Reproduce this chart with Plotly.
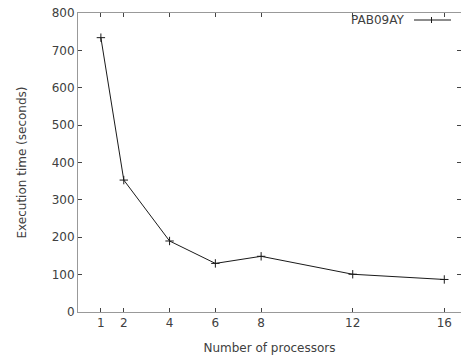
import plotly.graph_objects as go

processors = [1, 2, 4, 6, 8, 12, 16]
exec_time = [734, 353, 190, 130, 149, 101, 87]
x_ticks = [1, 2, 4, 6, 8, 12, 16]
y_ticks = [0, 100, 200, 300, 400, 500, 600, 700, 800]
series_name = "PAB09AY"

W, H = 461, 356
L, R, T, B = 78, 0, 13, 44
pw = W - L - R
ph = H - T - B
FONT = "DejaVu Sans"
TXT = "#404040"

def px_x(p):  # page pixel -> paper
    return (p - L) / pw

def px_y(p):
    return 1 - (p - T) / ph

fig = go.Figure()
fig.add_trace(go.Scatter(
    x=processors, y=exec_time, mode="lines+markers", name=series_name,
    line=dict(color="#1a1a1a", width=1),
    marker=dict(symbol="cross-thin", size=6, line=dict(color="#1a1a1a", width=1)),
    showlegend=False, cliponaxis=False,
))

axis_common = dict(
    showgrid=False, showline=True, linecolor="#999999", linewidth=1,
    mirror="allticks", ticks="inside", ticklen=4, tickcolor="#444444", automargin=False,
    tickfont=dict(family=FONT, size=12, color=TXT),
)
fig.update_xaxes(range=[0, 16.73], tickvals=x_ticks, ticktext=[str(v) for v in x_ticks],
                 zeroline=False,
                 title=dict(text="Number of processors", standoff=14,
                            font=dict(family=FONT, size=12, color=TXT)),
                 **axis_common)
fig.update_yaxes(range=[0, 800], tickvals=y_ticks,
                 zeroline=True, zerolinecolor="#333333", zerolinewidth=1,
                 title=dict(text="Execution time (seconds)", standoff=22,
                            font=dict(family=FONT, size=12, color=TXT)),
                 **axis_common)

# legend key (gnuplot style: text then sample)
ly = px_y(20)
fig.add_annotation(xref="paper", yref="paper", x=px_x(406), y=ly, text=series_name,
                   showarrow=False, xanchor="right", yanchor="middle",
                   font=dict(family=FONT, size=12, color=TXT))
fig.add_shape(type="line", xref="paper", yref="paper", x0=px_x(414), x1=px_x(451),
              y0=ly, y1=ly, line=dict(color="#1a1a1a", width=1))
fig.add_shape(type="line", xref="paper", yref="paper", x0=px_x(431.5), x1=px_x(431.5),
              y0=px_y(17), y1=px_y(23), line=dict(color="#1a1a1a", width=1))

fig.update_layout(
    width=W, height=H, margin=dict(l=L, r=R, t=T, b=B),
    paper_bgcolor="white", plot_bgcolor="white",
    font=dict(family=FONT, size=12, color=TXT),
)
fig.write_html("out.html", config={"displayModeBar": False},
               post_script="document.body.style.margin='0';")
